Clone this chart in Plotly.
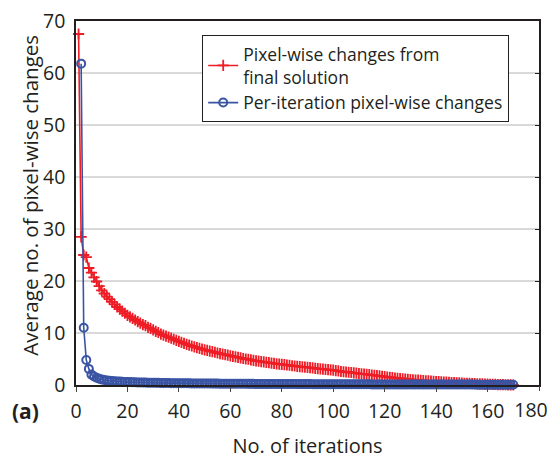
import plotly.graph_objects as go

# Average number of pixel-wise changes versus iteration count
final_changes = [
    67.5, 28.5, 25.0, 24.6, 22.5, 21.6, 20.7, 19.9, 19.0, 18.2,
    17.6, 17.0, 16.5, 16.0, 15.5, 15.0, 14.6, 14.2, 13.8, 13.4,
    13.1, 12.8, 12.5, 12.2, 11.9, 11.6, 11.4, 11.1, 10.9, 10.6,
    10.3, 10.1, 9.8, 9.6, 9.4, 9.2, 9.0, 8.8, 8.6, 8.4,
    8.2, 8.0, 7.8, 7.65, 7.5, 7.35, 7.2, 7.05, 6.9, 6.75,
    6.65, 6.5, 6.4, 6.3, 6.15, 6.05, 5.95, 5.85, 5.75, 5.6,
    5.5, 5.4, 5.3, 5.2, 5.1, 5.0, 4.95, 4.85, 4.75, 4.65,
    4.6, 4.5, 4.45, 4.35, 4.3, 4.2, 4.15, 4.05, 4.0, 3.95,
    3.9, 3.85, 3.8, 3.7, 3.65, 3.6, 3.55, 3.5, 3.45, 3.4,
    3.35, 3.3, 3.2, 3.15, 3.1, 3.05, 3.0, 2.95, 2.9, 2.85,
    2.75, 2.7, 2.6, 2.55, 2.5, 2.45, 2.4, 2.35, 2.3, 2.2,
    2.15, 2.1, 2.05, 2.0, 1.9, 1.85, 1.8, 1.75, 1.65, 1.6,
    1.5, 1.45, 1.4, 1.35, 1.3, 1.25, 1.2, 1.15, 1.1, 1.05,
    1.0, 0.95, 0.92, 0.88, 0.85, 0.8, 0.78, 0.74, 0.7, 0.67,
    0.63, 0.6, 0.57, 0.54, 0.51, 0.48, 0.45, 0.42, 0.39, 0.37,
    0.34, 0.32, 0.3, 0.28, 0.26, 0.24, 0.22, 0.2, 0.18, 0.16,
    0.14, 0.12, 0.11, 0.09, 0.08, 0.06, 0.05, 0.03, 0.02, 0.0,
]
final_iters = list(range(1, len(final_changes) + 1))

per_iter_changes = [
    61.8, 11.0, 4.8, 3.1, 2.0, 1.65, 1.4, 1.2, 1.05,
    0.95, 0.88, 0.82, 0.77, 0.73, 0.69, 0.66, 0.63, 0.6, 0.58,
    0.56, 0.54, 0.52, 0.5, 0.49, 0.47, 0.46, 0.45, 0.44, 0.43,
    0.42, 0.41, 0.4, 0.39, 0.38, 0.37, 0.36, 0.36, 0.35, 0.34,
    0.34, 0.33, 0.33, 0.32, 0.31, 0.31, 0.3, 0.3, 0.29, 0.29,
    0.28, 0.28, 0.27, 0.27, 0.27, 0.26, 0.26, 0.25, 0.25, 0.25,
    0.24, 0.24, 0.24, 0.23, 0.23, 0.23, 0.22, 0.22, 0.22, 0.21,
    0.21, 0.21, 0.21, 0.2, 0.2, 0.2, 0.2, 0.19, 0.19, 0.19,
    0.19, 0.18, 0.18, 0.18, 0.18, 0.18, 0.17, 0.17, 0.17, 0.17,
    0.17, 0.16, 0.16, 0.16, 0.16, 0.16, 0.15, 0.15, 0.15, 0.15,
    0.15, 0.15, 0.14, 0.14, 0.14, 0.14, 0.14, 0.14, 0.13, 0.13,
    0.13, 0.13, 0.13, 0.13, 0.12, 0.12, 0.12, 0.12, 0.12, 0.12,
    0.12, 0.11, 0.11, 0.11, 0.11, 0.11, 0.11, 0.11, 0.1, 0.1,
    0.1, 0.1, 0.1, 0.1, 0.1, 0.1, 0.1, 0.09, 0.09, 0.09,
    0.09, 0.09, 0.09, 0.09, 0.09, 0.09, 0.08, 0.08, 0.08, 0.08,
    0.08, 0.08, 0.08, 0.08, 0.08, 0.07, 0.07, 0.07, 0.07, 0.07,
    0.07, 0.07, 0.07, 0.06, 0.06, 0.06, 0.06, 0.06, 0.06, 0.06,
]
per_iter_iters = list(range(2, len(per_iter_changes) + 2))

x_ticks = [0, 20, 40, 60, 80, 100, 120, 140, 160]
x_last_tick = [180]
y_ticks = [0, 10, 20, 30, 40, 50, 60, 70]

RED = "#ee1c25"
BLUE = "#3a54a4"
TEXT = "#231f20"
FONT = "Open Sans"
TICKFONT = dict(family=FONT, size=19.5, color=TEXT)

fig = go.Figure()

fig.add_trace(go.Scatter(
    x=final_iters, y=final_changes, mode="lines+markers",
    name="Pixel-wise changes from<br>final solution",
    line=dict(color=RED, width=1.6),
    marker=dict(symbol="cross-thin", size=8, line=dict(color=RED, width=1.8)),
    cliponaxis=False,
))
fig.add_trace(go.Scatter(
    x=per_iter_iters, y=per_iter_changes, mode="lines+markers",
    name="Per-iteration pixel-wise changes",
    line=dict(color=BLUE, width=1.6),
    marker=dict(symbol="circle-open", size=8, line=dict(color=BLUE, width=2)),
    cliponaxis=False,
))

# empty trace that carries the extra axes (right-hand inward ticks, last x label)
fig.add_trace(go.Scatter(x=[None], y=[None], xaxis="x2", yaxis="y2",
                         showlegend=False, hoverinfo="skip"))

fig.update_layout(
    width=552, height=459,
    margin=dict(l=76, r=13, t=21, b=74, autoexpand=False),
    paper_bgcolor="white", plot_bgcolor="white",
    font=dict(family=FONT, size=19, color=TEXT),
    showlegend=True,
    legend=dict(
        x=(202 - 76) / 463, y=(385 - 35) / 364, xanchor="left", yanchor="top",
        bgcolor="white", bordercolor="#231f20", borderwidth=1.2,
        font=dict(family=FONT, size=17.5, color=TEXT),
        tracegroupgap=0, itemwidth=30,
    ),
    xaxis=dict(
        range=[0, 180], tickvals=x_ticks, ticktext=[str(v) for v in x_ticks],
        showline=True, linecolor="#231f20", linewidth=1.5, mirror=True,
        ticks="outside", ticklen=5, tickwidth=1.2, tickcolor="#444",
        showgrid=False, zeroline=False, ticklabeloverflow="allow",
        automargin=False, ticklabelstandoff=3,
        tickfont=TICKFONT,
        title=dict(text="No. of iterations", standoff=18,
                   font=dict(family=FONT, size=20, color=TEXT)),
    ),
    xaxis2=dict(
        range=[0, 180], tickvals=x_last_tick,
        ticktext=[str(v) for v in x_last_tick], overlaying="x", side="bottom",
        ticks="outside", ticklen=5, tickwidth=1.2, tickcolor="#444",
        showline=False, showgrid=False, zeroline=False,
        ticklabeloverflow="allow", automargin=False, ticklabelstandoff=3,
        ticklabelshift=-8, tickfont=TICKFONT,
    ),
    yaxis=dict(
        range=[0, 70], tickvals=y_ticks, ticktext=[str(v) for v in y_ticks],
        showline=True, linecolor="#231f20", linewidth=1.5, mirror=True,
        ticks="", showgrid=True, gridcolor="#d9d9d9", gridwidth=1.5,
        zeroline=False, ticklabelstandoff=5, automargin=False,
        tickfont=TICKFONT,
    ),
    yaxis2=dict(
        range=[0, 70], tickvals=y_ticks, overlaying="y", side="right",
        showticklabels=False, ticks="inside", ticklen=4, tickwidth=1.2,
        tickcolor="#231f20", showgrid=False, showline=False, zeroline=False,
        automargin=False,
    ),
    annotations=[
        dict(text="Average no. of pixel-wise changes", textangle=-90,
             xref="paper", yref="paper", x=(30 - 76) / 463, y=0.52,
             xanchor="center", yanchor="middle", showarrow=False,
             font=dict(family=FONT, size=20.5, color=TEXT)),
        dict(text="<b>(a)</b>", xref="paper", yref="paper",
             x=(10 - 76) / 463, y=(385 - 411) / 364,
             xanchor="left", yanchor="middle", showarrow=False,
             font=dict(family=FONT, size=21, color=TEXT)),
    ],
)

fig.write_html("out.html")
